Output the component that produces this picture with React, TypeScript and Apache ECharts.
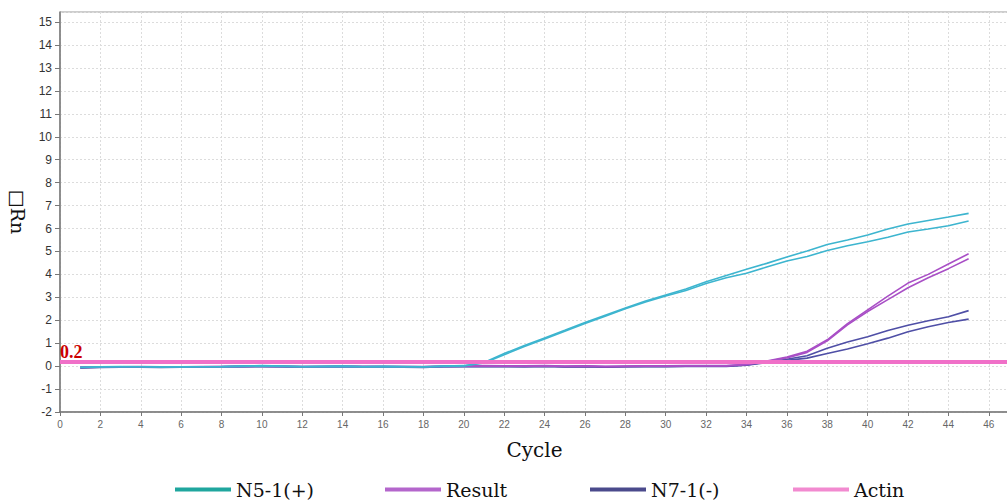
import React, { useEffect, useRef } from "react";
import * as echarts from "echarts";

const cycles = [1, 2, 3, 4, 5, 6, 7, 8, 9, 10, 11, 12, 13, 14, 15, 16, 17, 18, 19, 20, 21, 22, 23, 24, 25, 26, 27, 28, 29, 30, 31, 32, 33, 34, 35, 36, 37, 38, 39, 40, 41, 42, 43, 44, 45];

const n5RepA = [-0.05, -0.03, -0.02, -0.03, -0.04, -0.03, -0.03, -0.02, 0.0, 0.02, 0.0, -0.02, -0.01, 0.0, -0.02, -0.01, -0.02, -0.03, 0.0, 0.02, 0.16, 0.55, 0.9, 1.23, 1.56, 1.9, 2.22, 2.53, 2.84, 3.1, 3.36, 3.68, 3.95, 4.22, 4.48, 4.76, 5.02, 5.3, 5.5, 5.72, 5.98, 6.2, 6.35, 6.5, 6.66];
const n5RepB = [-0.06, -0.04, -0.03, -0.03, -0.04, -0.04, -0.03, -0.03, -0.01, 0.01, -0.01, -0.03, -0.02, -0.01, -0.03, -0.02, -0.03, -0.04, -0.01, 0.01, 0.14, 0.5, 0.86, 1.18, 1.52, 1.86, 2.18, 2.5, 2.8, 3.06, 3.3, 3.6, 3.85, 4.05, 4.32, 4.58, 4.78, 5.04, 5.25, 5.42, 5.62, 5.85, 5.98, 6.12, 6.33];

const resultRepA = [-0.04, -0.03, -0.03, -0.02, -0.03, -0.03, -0.02, -0.02, 0.0, 0.01, 0.0, -0.02, -0.01, 0.0, -0.01, -0.01, -0.02, -0.02, 0.0, 0.01, 0.02, 0.01, 0.01, 0.02, 0.0, 0.01, -0.01, 0.0, 0.01, 0.01, 0.02, 0.02, 0.02, 0.08, 0.22, 0.4, 0.65, 1.15, 1.85, 2.45, 3.05, 3.62, 4.0, 4.45, 4.9];
const resultRepB = [-0.05, -0.04, -0.03, -0.03, -0.04, -0.03, -0.03, -0.02, -0.01, 0.0, -0.01, -0.02, -0.02, -0.01, -0.02, -0.02, -0.02, -0.03, -0.01, 0.0, 0.01, 0.0, 0.0, 0.01, -0.01, 0.0, -0.02, -0.01, 0.0, 0.0, 0.01, 0.01, 0.01, 0.06, 0.2, 0.36, 0.6, 1.1, 1.8, 2.38, 2.9, 3.42, 3.85, 4.25, 4.68];

const n7RepA = [-0.07, -0.05, -0.04, -0.04, -0.05, -0.04, -0.04, -0.03, -0.02, -0.01, -0.02, -0.04, -0.03, -0.02, -0.03, -0.03, -0.04, -0.05, -0.02, -0.01, 0.0, -0.01, -0.02, 0.0, -0.03, -0.01, -0.04, -0.02, -0.01, -0.01, 0.0, 0.0, 0.0, 0.05, 0.18, 0.3, 0.45, 0.78, 1.05, 1.28, 1.55, 1.78, 1.98, 2.15, 2.42];
const n7RepB = [-0.08, -0.06, -0.05, -0.05, -0.06, -0.05, -0.05, -0.04, -0.03, -0.02, -0.03, -0.05, -0.04, -0.03, -0.04, -0.04, -0.05, -0.06, -0.03, -0.02, -0.01, -0.02, -0.03, -0.01, -0.04, -0.02, -0.05, -0.03, -0.02, -0.02, -0.01, -0.01, -0.01, 0.04, 0.15, 0.25, 0.35, 0.55, 0.75, 0.98, 1.22, 1.5, 1.72, 1.9, 2.05];

const thresholdValue = 0.2;
const thresholdLabel = "0.2";

const seriesNames = ["N5-1(+)", "Result", "N7-1(-)", "Actin"];
const legendColors = ["#1fa69e", "#b466cc", "#4b4a8c", "#f28ad0"];
const lineColors = ["#3db5cf", "#a94fc6", "#4f4fa6", "#f070c8"];
const legendLefts = [175, 385, 590, 793];

const xTicks = { min: 0, max: 47, interval: 2 };
const yTicks = { min: -2, max: 15.44, interval: 1 };

function pairs(values: number[]) {
  return cycles.map((c, i) => [c, values[i]]);
}

export default function App() {
  const ref = useRef<HTMLDivElement>(null);

  useEffect(() => {
    if (!ref.current) return;
    const chart = echarts.init(ref.current, undefined, { renderer: "svg" });

    const lineSeries = (name: string, color: string, values: number[], z: number) => ({
      name,
      type: "line",
      data: pairs(values),
      showSymbol: false,
      symbol: "none",
      color,
      lineStyle: { color, width: 1.6 },
      z,
    });

    chart.setOption({
      animation: false,
      backgroundColor: "#ffffff",
      grid: {
        left: 60,
        right: -2,
        top: 12,
        bottom: 90,
        outerBoundsMode: "none",
        containLabel: false,
        show: true,
        borderColor: "#9a9a9a",
        borderWidth: 1,
        backgroundColor: "#ffffff",
      },
      legend: seriesNames.map((name, i) => ({
        left: legendLefts[i],
        top: 480,
        padding: 0,
        icon: "rect",
        itemWidth: 56,
        itemHeight: 4,
        itemGap: 5,
        selectedMode: false,
        textStyle: { fontFamily: "DejaVu Serif", fontSize: 19, color: "#111" },
        data: [{ name, itemStyle: { color: legendColors[i] } }],
      })),
      xAxis: {
        type: "value",
        min: xTicks.min,
        max: xTicks.max,
        interval: xTicks.interval,
        name: "Cycle",
        nameLocation: "middle",
        nameGap: 28,
        nameTextStyle: { fontFamily: "DejaVu Serif", fontSize: 20, color: "#111" },
        axisLine: { show: true, onZero: false, lineStyle: { color: "#777", width: 1.5 } },
        axisTick: { show: true, length: 4, lineStyle: { color: "#777" } },
        axisLabel: {
          fontSize: 10,
          color: "#666",
          fontFamily: "Liberation Sans",
          margin: 7,
          showMaxLabel: false,
        },
        splitLine: { show: true, lineStyle: { color: "#dcdcdc", type: [2, 2], width: 1 } },
      },
      yAxis: {
        type: "value",
        min: yTicks.min,
        max: yTicks.max,
        interval: yTicks.interval,
        name: "□Rn",
        nameLocation: "middle",
        nameRotate: -90,
        nameGap: 30,
        nameTextStyle: { fontFamily: "DejaVu Serif", fontSize: 19, color: "#111" },
        axisLine: { show: true, onZero: false, lineStyle: { color: "#777", width: 1.5 } },
        axisTick: { show: true, length: 5, lineStyle: { color: "#777" } },
        axisLabel: {
          fontSize: 12,
          color: "#333",
          fontFamily: "Liberation Sans",
          margin: 8,
          showMaxLabel: false,
        },
        splitLine: { show: true, lineStyle: { color: "#dcdcdc", type: [2, 2], width: 1 } },
      },
      series: [
        lineSeries(seriesNames[2], lineColors[2], n7RepA, 2),
        lineSeries(seriesNames[2], lineColors[2], n7RepB, 2),
        lineSeries(seriesNames[1], lineColors[1], resultRepA, 3),
        lineSeries(seriesNames[1], lineColors[1], resultRepB, 3),
        lineSeries(seriesNames[0], lineColors[0], n5RepA, 4),
        lineSeries(seriesNames[0], lineColors[0], n5RepB, 4),
        {
          name: seriesNames[3],
          type: "line",
          data: [],
          color: lineColors[3],
          z: 5,
          markLine: {
            silent: true,
            symbol: ["none", "none"],
            animation: false,
            lineStyle: { color: lineColors[3], width: 4, type: "solid" },
            label: {
              show: true,
              position: "insideStartTop",
              formatter: thresholdLabel,
              color: "#cc0000",
              fontFamily: "Liberation Serif",
              fontWeight: "bold",
              fontSize: 18,
              distance: [0, 1],
            },
            data: [{ yAxis: thresholdValue }],
          },
        },
      ],
    });

    return () => chart.dispose();
  }, []);

  return (
    <div
      ref={ref}
      style={{ position: "fixed", left: 0, top: 0, width: 1007, height: 502, background: "#fff" }}
    />
  );
}
